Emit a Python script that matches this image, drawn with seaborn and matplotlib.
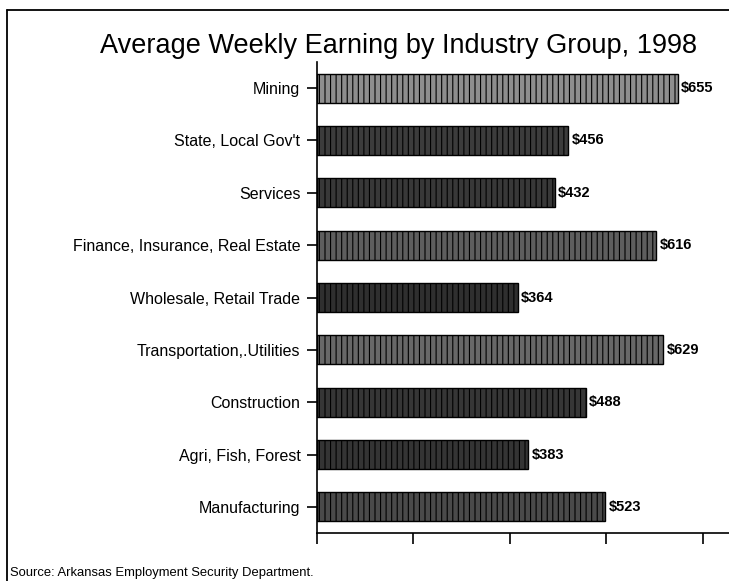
"""
Average weekly earning by industry group, Arkansas 1998 (horizontal bars).
"""

import matplotlib
matplotlib.use('Agg')
import matplotlib.pyplot as plt
from matplotlib.lines import Line2D
import seaborn as sns

industries = ["Mining", "State, Local Gov't", "Services",
              "Finance, Insurance, Real Estate", "Wholesale, Retail Trade",
              "Transportation,.Utilities", "Construction",
              "Agri, Fish, Forest", "Manufacturing"]
earnings = [655, 456, 432, 616, 364, 629, 488, 383, 523]
value_labels = [f'${v}' for v in earnings]
x_ticks = [0, 175, 350, 525, 700]

title = 'Average Weekly Earning by Industry Group, 1998'
source = 'Source: Arkansas Employment Security Department.'

# grey tone of the scanned texture, one per bar
bar_greys = ['#8e8e8e', '#3c3c3c', '#383838', '#5e5e5e', '#2f2f2f',
             '#686868', '#363636', '#343434', '#4a4a4a']

sns.set_style('white')
plt.rcParams['font.family'] = ['Liberation Sans', 'DejaVu Sans']
plt.rcParams['text.color'] = 'black'
plt.rcParams['ytick.color'] = 'black'
plt.rcParams['xtick.color'] = 'black'
plt.rcParams['hatch.linewidth'] = 0.8

fig = plt.figure(figsize=(7.29, 5.81), dpi=100)
ax = fig.add_axes([0.435, 0.0826, 0.565, 0.8107])

sns.barplot(x=earnings, y=industries, hue=industries, orient='h',
            palette=bar_greys, legend=False, width=0.56,
            edgecolor='black', linewidth=1.0, saturation=1, ax=ax)

# imitate the speckled fill of the original print
for bar in ax.patches:
    bar.set_hatch('|||')

for bar, text in zip(ax.patches, value_labels):
    ax.text(bar.get_width() + 6, bar.get_y() + bar.get_height() / 2, text,
            fontsize=10.5, fontweight='bold', color='black',
            ha='left', va='center')

ax.set_xlim(0, 748)
ax.set_ylim(8.5, -0.5)
ax.set_xticks(x_ticks)
ax.set_xticklabels([])
ax.set_xlabel('')
ax.set_ylabel('')
ax.tick_params(axis='y', length=7, width=1.2, labelsize=11.5, pad=5,
               left=True, labelcolor='black')
ax.tick_params(axis='x', length=8, width=1.2, bottom=True, direction='out')
sns.despine(ax=ax, top=True, right=True)
for side in ('left', 'bottom'):
    ax.spines[side].set_color('black')
    ax.spines[side].set_linewidth(1.2)

fig.text(0.546, 0.921, title, fontsize=19.5, color='black',
         ha='center', va='center')
fig.text(0.014, 0.004, source, fontsize=9.4, color='black',
         ha='left', va='bottom')

# outer frame of the page (top and left edges visible)
fig.add_artist(Line2D([0.0096, 0.0096], [0.0, 0.983], color='black',
                      linewidth=1.3, transform=fig.transFigure))
fig.add_artist(Line2D([0.0096, 1.0], [0.983, 0.983], color='black',
                      linewidth=1.3, transform=fig.transFigure))

fig.savefig('out.png', dpi=100)
